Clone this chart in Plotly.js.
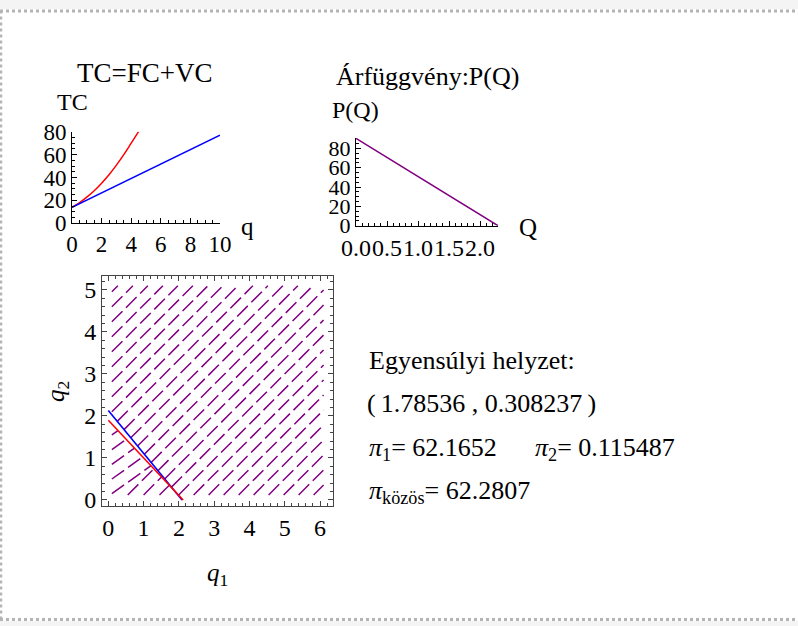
<!DOCTYPE html>
<html><head><meta charset="utf-8">
<script src="https://cdn.plot.ly/plotly-3.0.1.min.js"></script>
<style>html,body{margin:0;padding:0;background:#fff;}#chart{width:798px;height:626px;}</style>
</head><body><div id="chart"></div>
<script>
// ---- Plot 1: TC = FC + VC ----
const tcQ = [0, 0.5, 1, 1.5, 2, 2.5, 3, 3.5, 4, 4.5];
const tcRed = [14, 17.9, 22.8, 28.4, 35, 42.4, 50.8, 60, 70, 80];
const tcBlueQ = [0, 10];
const tcBlue = [14, 77];

// ---- Plot 2: price function ----
const priceQ = [0, 2.29];
const priceP = [90.4, 0];

// ---- Plot 3: stream lines (start / end points, data units) ----
const streamX0 = [0.1,0.1,0.1,0.1,0.1,0.1,0.1,0.1,0.1,0.253,0.445,0.637,0.829,1.021,1.213,1.405,1.597,1.789,1.993,2.418,2.843,3.268,3.693,4.118,4.543,4.968,5.393,5.818,
                  0.1,0.1,0.1,0.1,0.1,0.55,1.0,1.45];
const streamY0 = [4.956,4.599,4.242,3.885,3.528,3.171,2.814,2.457,2.1,1.872,1.676,1.480,1.284,1.089,0.893,0.697,0.501,0.306,0.12,0.12,0.12,0.12,0.12,0.12,0.12,0.12,0.12,0.12,
                  1.55,1.2,0.85,0.5,0.15,0.12,0.12,0.12];
const streamX1 = [0.271,0.696,1.121,1.546,1.971,2.396,2.821,3.246,3.671,4.096,4.521,4.946,5.371,5.796,6.1,6.1,6.1,6.1,6.1,6.1,6.1,6.1,6.1,6.1,6.1,6.1,6.1,6.1,
                  0.274,0.508,0.742,0.976,1.210,1.291,1.509,1.727];
const streamY1 = [5.1,5.1,5.1,5.1,5.1,5.1,5.1,5.1,5.1,5.1,5.1,5.1,5.1,5.1,4.998,4.641,4.284,3.927,3.570,3.213,2.856,2.499,2.142,1.785,1.428,1.071,0.714,0.357,
                  1.654,1.445,1.235,1.026,0.816,0.742,0.548,0.353];
// reaction functions
const reactBlueQ1 = [0, 2.09];
const reactBlueQ2 = [2.13, 0];
const reactRedQ1 = [0, 2.12];
const reactRedQ2 = [1.90, 0];

// ---- text ----
const eqTitle = 'Egyensúlyi helyzet:';
const eqPoint = '(\u20091.78536 , 0.308237\u2009)';
const pi1 = '62.1652';
const pi2 = '0.115487';
const piJoint = '62.2807';

const W = 798, H = 626;
const fx = p => p / W;
const fy = p => 1 - p / H;
const serif = 'Liberation Serif, Times New Roman, serif';
const PURPLE = '#800080';

const sx = [], sy = [];
for (let i = 0; i < streamX0.length; i++) {
  sx.push(streamX0[i], streamX1[i], null);
  sy.push(streamY0[i], streamY1[i], null);
}

const traces = [
  {x: tcQ, y: tcRed, mode: 'lines', line: {color: '#ff0000', width: 1.5, shape: 'spline'}, xaxis: 'x', yaxis: 'y', cliponaxis: false, hoverinfo: 'skip'},
  {x: tcBlueQ, y: tcBlue, mode: 'lines', line: {color: '#0000ff', width: 1.5}, xaxis: 'x', yaxis: 'y', cliponaxis: false, hoverinfo: 'skip'},
  {x: priceQ, y: priceP, mode: 'lines', line: {color: PURPLE, width: 1.5}, xaxis: 'x2', yaxis: 'y2', cliponaxis: false, hoverinfo: 'skip'},
  {x: sx, y: sy, mode: 'lines', connectgaps: false, line: {color: PURPLE, width: 1.5, dash: '15px,5px'}, xaxis: 'x3', yaxis: 'y3', hoverinfo: 'skip'},
  {x: reactBlueQ1, y: reactBlueQ2, mode: 'lines', line: {color: '#0000ff', width: 1.6}, xaxis: 'x3', yaxis: 'y3', hoverinfo: 'skip'},
  {x: reactRedQ1, y: reactRedQ2, mode: 'lines', line: {color: '#ff0000', width: 1.6}, xaxis: 'x3', yaxis: 'y3', hoverinfo: 'skip'}
];

function ax(o) {
  return Object.assign({
    showline: true, linecolor: '#000', linewidth: 1, ticks: 'inside', ticklen: 5, tickwidth: 1, tickcolor: '#000',
    showgrid: false, zeroline: false, fixedrange: true, tickangle: 0,
    tickfont: {family: serif, size: 23, color: '#000'}
  }, o);
}

const layout = {
  width: W, height: H, margin: {l: 0, r: 0, t: 0, b: 0},
  paper_bgcolor: '#fff', plot_bgcolor: 'rgba(0,0,0,0)', showlegend: false,
  font: {family: serif, color: '#000'},
  xaxis: ax({domain: [fx(72), fx(220)], range: [0, 10], anchor: 'y', tick0: 0, dtick: 2,
    minor: {dtick: 0.5, ticklen: 3, ticks: 'inside', tickcolor: '#000'}}),
  yaxis: ax({domain: [fy(223.3), fy(131.7)], range: [0, 80], anchor: 'x', tick0: 0, dtick: 20,
    minor: {dtick: 5, ticklen: 3, ticks: 'inside', tickcolor: '#000'}}),
  xaxis2: ax({domain: [fx(356), fx(498)], range: [0, 2.29], anchor: 'y2', tick0: 0, dtick: 0.5, tickformat: '.1f',
    tickfont: {family: serif, size: 24, color: '#000'},
    minor: {dtick: 0.1, ticklen: 3, ticks: 'inside', tickcolor: '#000'}}),
  yaxis2: ax({domain: [fy(225.7), fy(137.7)], range: [0, 91], anchor: 'x2', tick0: 0, dtick: 20,
    tickfont: {family: serif, size: 22, color: '#000'},
    minor: {dtick: 5, ticklen: 3, ticks: 'inside', tickcolor: '#000'}}),
  xaxis3: ax({domain: [fx(102), fx(333)], range: [-0.179, 6.367], anchor: 'y3', tick0: 0, dtick: 1,
    linecolor: '#444', tickcolor: '#444', mirror: 'allticks', ticklen: 5,
    tickfont: {family: serif, size: 24, color: '#000'},
    minor: {dtick: 0.2, ticklen: 3, ticks: 'inside', tickcolor: '#444'}}),
  yaxis3: ax({domain: [fy(505.7), fy(276)], range: [-0.136, 5.333], anchor: 'x3', tick0: 0, dtick: 1,
    linecolor: '#444', tickcolor: '#444', mirror: 'allticks', ticklen: 5,
    tickfont: {family: serif, size: 24, color: '#000'},
    minor: {dtick: 0.2, ticklen: 3, ticks: 'inside', tickcolor: '#444'}}),
  shapes: [
    {type: 'rect', xref: 'paper', yref: 'paper', x0: 0, x1: 1, y0: fy(9), y1: 1, fillcolor: '#f4f4f4', line: {width: 0}, layer: 'below'},
    {type: 'rect', xref: 'paper', yref: 'paper', x0: 0, x1: 1, y0: 0, y1: fy(621), fillcolor: '#f4f4f4', line: {width: 0}, layer: 'below'},
    {type: 'line', xref: 'paper', yref: 'paper', x0: 0, x1: 1, y0: fy(11), y1: fy(11), line: {color: '#b4b4b4', width: 3, dash: 'dot'}},
    {type: 'line', xref: 'paper', yref: 'paper', x0: 0, x1: 1, y0: fy(619.5), y1: fy(619.5), line: {color: '#b4b4b4', width: 3, dash: 'dot'}},
    {type: 'line', xref: 'paper', yref: 'paper', x0: fx(1), x1: fx(1), y0: fy(619.5), y1: fy(11), line: {color: '#b4b4b4', width: 2.5, dash: 'dot'}}
  ],
  annotations: [
    {text: 'TC=FC+VC', x: fx(145), y: fy(73), font: {size: 27}},
    {text: 'TC', x: fx(72.5), y: fy(102), font: {size: 24}},
    {text: 'q', x: fx(247), y: fy(226), font: {size: 25}},
    {text: 'Árfüggvény:P(Q)', x: fx(427), y: fy(76), font: {size: 26}},
    {text: 'P(Q)', x: fx(355), y: fy(110), font: {size: 24}},
    {text: 'Q', x: fx(528), y: fy(227), font: {size: 25}},
    {text: '<i>q</i><sub>2</sub>', x: fx(57), y: fy(392), font: {size: 25}, textangle: -90},
    {text: '<i>q</i><sub>1</sub>', x: fx(217), y: fy(574), font: {size: 25}},
    {text: eqTitle, x: fx(367), y: fy(360), xanchor: 'left', font: {size: 26}},
    {text: eqPoint, x: fx(365), y: fy(404), xanchor: 'left', font: {size: 26}},
    {text: '<i>π</i><sub>1</sub>= ' + pi1, x: fx(367), y: fy(449), xanchor: 'left', font: {size: 26}},
    {text: '<i>π</i><sub>2</sub>= ' + pi2, x: fx(533), y: fy(449), xanchor: 'left', font: {size: 26}},
    {text: '<i>π</i><sub>közös</sub>= ' + piJoint, x: fx(367), y: fy(492), xanchor: 'left', font: {size: 26}}
  ].map(a => Object.assign({xref: 'paper', yref: 'paper', showarrow: false, xanchor: 'center', yanchor: 'middle'}, a))
};

Plotly.newPlot('chart', traces, layout, {staticPlot: true, displayModeBar: false});
</script></body></html>
